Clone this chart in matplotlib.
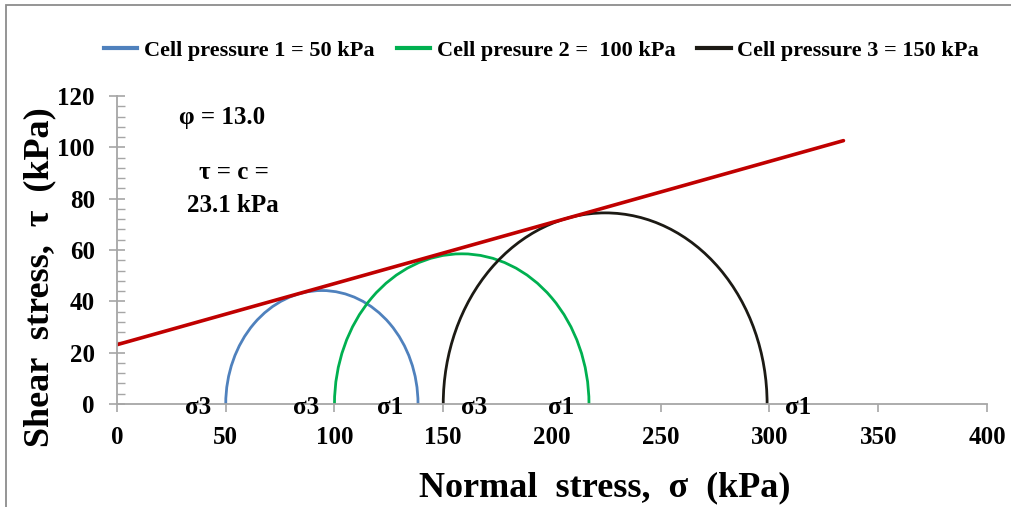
import matplotlib
matplotlib.use("Agg")
import matplotlib.pyplot as plt
from matplotlib.patches import Arc, Rectangle
from matplotlib.ticker import MultipleLocator

# Mohr circles: minor / major principal stress (kPa)
sigma3 = [50.0, 100.0, 150.0]
sigma1 = [138.4, 217.0, 298.9]
labels = ['Cell pressure 1 = 50 kPa', 'Cell presure 2 =  100 kPa', 'Cell pressure 3 = 150 kPa']
colors = ['#4F81BD', '#00B050', '#1C1A14']

# failure envelope end points
env_x = [0.0, 334.0]
env_y = [23.1, 102.6]

# sigma point labels: (x position, text, side)
sig_pts = [50.0, 100.0, 138.4, 150.0, 217.0, 298.9]
sig_txt = ['σ3', 'σ3', 'σ1', 'σ3', 'σ1', 'σ1']
sig_side = [-1, -1, -1, 1, -1, 1]

xticks = [0, 50, 100, 150, 200, 250, 300, 350, 400]
yticks = [0, 20, 40, 60, 80, 100, 120]

plt.rcParams['font.family'] = ['Liberation Serif', 'DejaVu Serif']
plt.rcParams['font.weight'] = 'bold'

fig = plt.figure(figsize=(10.12, 5.07), dpi=100)
ax = fig.add_axes([0.1156, 0.2032, 0.8597, 0.6075])

for s3, s1, c, lab in zip(sigma3, sigma1, colors, labels):
    ctr = (s3 + s1) / 2.0
    d = s1 - s3
    ax.add_patch(Arc((ctr, 0), d, d, theta1=0, theta2=180, color=c, lw=2.0))
    ax.plot([], [], color=c, lw=3, label=lab)

ax.plot(env_x, env_y, color='#C00000', lw=2.6, solid_capstyle='round')

for x, t, s in zip(sig_pts, sig_txt, sig_side):
    off = -28 if s < 0 else 31
    ax.annotate(t, (x, 0), xytext=(off, -4), textcoords='offset pixels',
                ha='center', va='center', fontsize=18, fontweight='bold')

ax.set_xlim(0, 400)
ax.set_ylim(0, 120)
ax.set_xticks(xticks)
ax.set_yticks(yticks)
ax.yaxis.set_minor_locator(MultipleLocator(4))
for sp in ['top', 'right']:
    ax.spines[sp].set_visible(False)
for sp in ['left', 'bottom']:
    ax.spines[sp].set_color('#A6A6A6')
    ax.spines[sp].set_linewidth(1.3)
ax.tick_params(axis='x', which='major', direction='out', length=6, width=1.2,
               color='#A6A6A6', labelsize=18, pad=10)
ax.tick_params(axis='y', which='major', direction='inout', length=12, width=1.2,
               color='#A6A6A6', labelsize=18, pad=10)
ax.tick_params(axis='y', which='minor', direction='in', length=6, width=1.0,
               color='#A6A6A6')
for lbl in ax.get_xticklabels() + ax.get_yticklabels():
    lbl.set_fontweight('bold')

ax.set_xlabel('Normal  stress,  σ  (kPa)', fontsize=26, fontweight='bold', va='center')
ax.xaxis.set_label_coords(0.561, -0.273)
ax.set_ylabel('Shear  stress,  τ  (kPa)', fontsize=26, fontweight='bold', va='center')
ax.yaxis.set_label_coords(-0.0885, 0.412)

ax.text(0.1207, 0.929, 'φ = 13.0', transform=ax.transAxes, ha='center', va='center',
        fontsize=18, fontweight='bold')
ax.text(0.1345, 0.75, 'τ = c =', transform=ax.transAxes, ha='center', va='center',
        fontsize=18, fontweight='bold')
ax.text(0.1333, 0.646, '23.1 kPa', transform=ax.transAxes, ha='center', va='center',
        fontsize=18, fontweight='bold')

fig.legend(loc='center', bbox_to_anchor=(0.535, 0.90), ncol=3, frameon=False,
           prop={'weight': 'bold', 'size': 16}, handlelength=1.5,
           handletextpad=0.3, columnspacing=1.0)

fig.patches.append(Rectangle((0.006, -0.1), 1.2, 1.09, transform=fig.transFigure,
                             fill=False, edgecolor='#8C8C8C', lw=1.3))

fig.savefig('out.png', dpi=100)
